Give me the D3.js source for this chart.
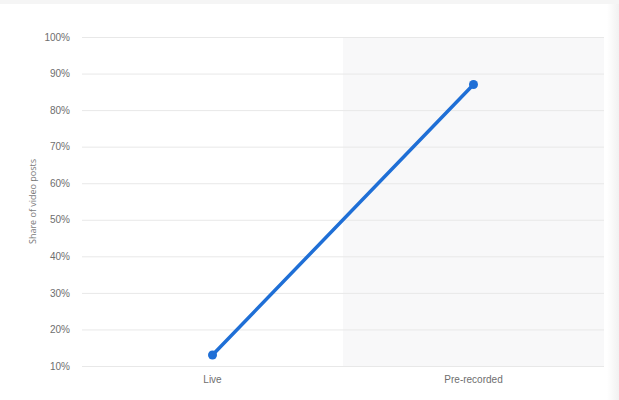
<!DOCTYPE html>
<html>
<head>
<meta charset="utf-8">
<script src="https://cdn.jsdelivr.net/npm/d3@7"></script>
<style>
  body { margin: 0; background: #fff; }
  svg { display: block; font-family: "Open Sans", sans-serif; }
</style>
</head>
<body>
<svg id="chart" width="619" height="400"></svg>
<script>
// data
const categories = ['Live', 'Pre-recorded'];
const shares = [13, 87];
const yTicks = [10, 20, 30, 40, 50, 60, 70, 80, 90, 100];

const width = 619;
const height = 400;
const margin = { top: 37, right: 15, bottom: 34, left: 82 };

const svg = d3.select('#chart');

// page chrome: thin top strip and right edge shadow
svg.append('rect')
    .attr('x', 0).attr('y', 0)
    .attr('width', width).attr('height', 4)
    .attr('fill', '#f5f5f5');

const edge = svg.append('defs').append('linearGradient')
    .attr('id', 'edge')
    .attr('x1', '0').attr('x2', '1');
edge.append('stop').attr('offset', '0').attr('stop-color', '#fff');
edge.append('stop').attr('offset', '1').attr('stop-color', '#f1f1f1');
svg.append('rect')
    .attr('x', 607).attr('y', 4)
    .attr('width', 12).attr('height', height - 4)
    .attr('fill', 'url(#edge)');

const x = d3.scaleBand()
    .domain(categories)
    .range([margin.left, width - margin.right]);

const y = d3.scaleLinear()
    .domain([10, 100])
    .range([height - margin.bottom, margin.top]);

// hover band on the second category
svg.append('rect')
    .attr('x', x('Pre-recorded'))
    .attr('y', y(100))
    .attr('width', x.bandwidth())
    .attr('height', y(10) - y(100))
    .attr('fill', '#f8f8f9');

// grid
svg.append('g')
    .attr('transform', `translate(${margin.left},0)`)
    .call(d3.axisLeft(y)
        .tickValues(yTicks)
        .tickSize(-(x.range()[1] - margin.left))
        .tickPadding(12)
        .tickFormat((d) => d + '%'))
    .call((g) => g.select('.domain').remove())
    .call((g) => g.selectAll('.tick line')
        .attr('stroke', '#e8e8e8')
        .attr('stroke-width', 1))
    .call((g) => g.selectAll('.tick text')
        .attr('fill', '#6e6e6e')
        .attr('font-size', 10));

// x labels
svg.append('g')
    .attr('transform', `translate(0, ${y(10)})`)
    .call(d3.axisBottom(x).tickSize(0).tickPadding(10))
    .call((g) => g.select('.domain').remove())
    .call((g) => g.selectAll('.tick text')
        .attr('fill', '#6e6e6e')
        .attr('font-size', 10));

const points = categories.map((c, i) => ({ category: c, value: shares[i] }));

const line = d3.line()
    .x((d) => x(d.category) + x.bandwidth() / 2)
    .y((d) => y(d.value));

svg.append('path')
    .datum(points)
    .attr('d', line)
    .attr('fill', 'none')
    .attr('stroke', '#1f6fd6')
    .attr('stroke-width', 3.5)
    .attr('stroke-linecap', 'round');

svg.selectAll('.dot')
    .data(points)
    .enter()
    .append('circle')
    .attr('class', 'dot')
    .attr('cx', (d) => x(d.category) + x.bandwidth() / 2)
    .attr('cy', (d) => y(d.value))
    .attr('r', 4.5)
    .attr('fill', '#1f6fd6');

// y axis title
svg.append('text')
    .attr('transform', `translate(36, ${(y(10) + y(100)) / 2}) rotate(-90)`)
    .attr('text-anchor', 'middle')
    .attr('font-size', 9)
    .attr('fill', '#7a7a7a')
    .text('Share of video posts');
</script>
</body>
</html>
